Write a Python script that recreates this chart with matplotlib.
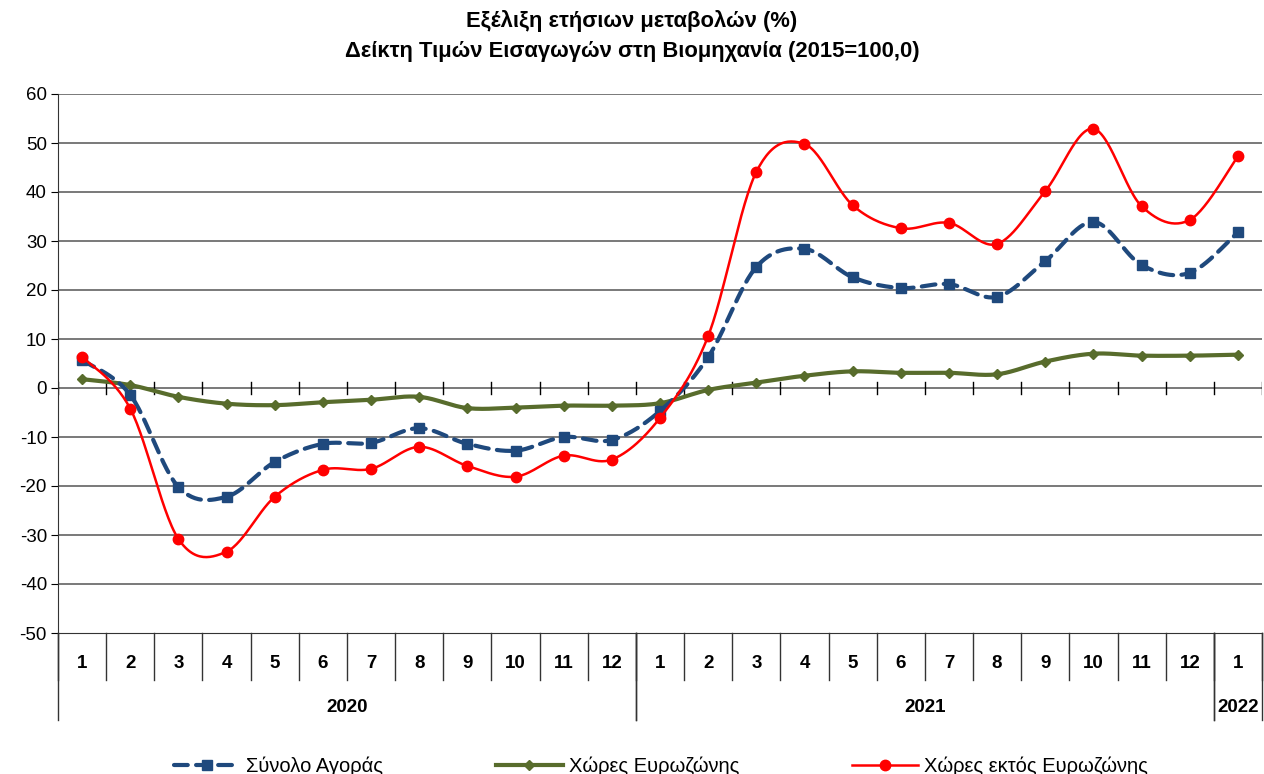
import numpy as np
import matplotlib
matplotlib.use("Agg")
import matplotlib.pyplot as plt
from matplotlib.lines import Line2D

plt.rcParams['font.family'] = ['Liberation Sans', 'DejaVu Sans']
plt.rcParams['axes.unicode_minus'] = False

# --- data ---
months = ['1', '2', '3', '4', '5', '6', '7', '8', '9', '10', '11', '12',
          '1', '2', '3', '4', '5', '6', '7', '8', '9', '10', '11', '12',
          '1']
years = ['2020', '2021', '2022']
year_len = [12, 12, 1]

total = [5.7, -1.4, -20.2, -22.2, -15.1, -11.4, -11.2, -8.2, -11.4, -12.8, -10.0, -10.6,
         -4.7, 6.3, 24.7, 28.4, 22.6, 20.4, 21.2, 18.6, 25.9, 33.9, 25.1, 23.5,
         31.8]
euro = [1.8, 0.6, -1.8, -3.2, -3.5, -2.9, -2.4, -1.8, -4.1, -4.0, -3.6, -3.6,
        -3.1, -0.4, 1.1, 2.5, 3.4, 3.1, 3.1, 2.8, 5.4, 7.0, 6.6, 6.6,
        6.8]
non_euro = [6.4, -4.2, -30.8, -33.4, -22.2, -16.7, -16.5, -12.0, -15.9, -18.1, -13.8, -14.6,
            -6.1, 10.6, 44.1, 49.8, 37.3, 32.6, 33.7, 29.4, 40.2, 52.9, 37.1, 34.3,
            47.3]

names = ['Σύνολο Αγοράς', 'Χώρες Ευρωζώνης', 'Χώρες εκτός Ευρωζώνης']
title = 'Εξέλιξη ετήσιων μεταβολών (%)\nΔείκτη Τιμών Εισαγωγών στη Βιομηχανία (2015=100,0)'


def smooth(x, y, n=30):
    # excel-like smoothing: cubic bezier through points (catmull-rom controls)
    x = np.asarray(x, float)
    y = np.asarray(y, float)
    pts = np.column_stack([x, y])
    p = np.vstack([pts[0], pts, pts[-1]])
    out = []
    t = np.linspace(0, 1, n)[:, None]
    for i in range(1, len(p) - 2):
        p0, p1, p2, p3 = p[i - 1], p[i], p[i + 1], p[i + 2]
        c1 = p1 + (p2 - p0) / 6.0
        c2 = p2 - (p3 - p1) / 6.0
        seg = ((1 - t) ** 3) * p1 + 3 * ((1 - t) ** 2) * t * c1 + 3 * (1 - t) * t ** 2 * c2 + t ** 3 * p2
        out.append(seg)
    out = np.vstack(out)
    return out[:, 0], out[:, 1]


x = np.arange(len(months))
blue = '#1F497D'
green = '#586C2C'
red = '#FF0000'

fig = plt.figure(figsize=(12.64, 7.74), dpi=100)
ax = fig.add_axes([58 / 1264, 1 - 633 / 774, (1262 - 58) / 1264, (633 - 94) / 774])

ax.set_xlim(-0.5, len(months) - 0.5)
ax.set_ylim(-50, 60)
ax.set_yticks(np.arange(-50, 61, 10))
ax.tick_params(axis='y', labelsize=13.5, length=5, direction='out', pad=3)
ax.set_xticks([])
for v in range(-40, 61, 10):
    ax.axhline(v, color='#555555', lw=1.1, zorder=1)

for s in ['top', 'right']:
    ax.spines[s].set_visible(False)
ax.spines['left'].set_color('#333333')
ax.spines['bottom'].set_color('#333333')

# ticks on zero line
for b in np.arange(len(months) + 1) - 0.5:
    ax.plot([b, b], [-1.2, 1.2], color='black', lw=1, zorder=2)

# series
sx, sy = smooth(x, euro)
ax.plot(sx, sy, color=green, lw=3, zorder=3, solid_capstyle='round')
ax.plot(x, euro, 'D', color=green, ms=5, zorder=4)

sx, sy = smooth(x, total)
ax.plot(sx, sy, color=blue, lw=3, ls=(0, (3.3, 2.0)), dash_capstyle='round', zorder=5)
ax.plot(x, total, 's', color=blue, ms=7.5, zorder=6)

sx, sy = smooth(x, non_euro)
ax.plot(sx, sy, color=red, lw=1.8, zorder=7)
ax.plot(x, non_euro, 'o', color=red, ms=7.5, zorder=8)

# category axis below
trans = ax.get_xaxis_transform()
row1 = -47 / 539
row2 = -87 / 539
for b in np.arange(len(months) + 1) - 0.5:
    ax.plot([b, b], [0, row1], color='#333333', lw=1, transform=trans, clip_on=False)
for i, m in enumerate(months):
    ax.text(i, -30 / 539, m, transform=trans, ha='center', va='center',
            fontsize=13.5, fontweight='bold')
start = 0
for yr, n in zip(years, year_len):
    left = start - 0.5
    right = start + n - 0.5
    for b in [left, right]:
        ax.plot([b, b], [0, row2], color='#333333', lw=1, transform=trans, clip_on=False)
    ax.text((left + right) / 2, -75 / 539, yr, transform=trans, ha='center', va='center',
            fontsize=13.5, fontweight='bold')
    start += n

fig.suptitle(title, y=0.987, fontsize=15.8, fontweight='bold', linespacing=1.55)

handles = [
    Line2D([], [], color=blue, lw=3, ls=(0, (3.3, 2.0)), marker='s', ms=7.5, dash_capstyle='round'),
    Line2D([], [], color=green, lw=3, marker='D', ms=5),
    Line2D([], [], color=red, lw=1.8, marker='o', ms=7.5),
]
fig.legend(handles, names, loc='center', bbox_to_anchor=(0.523, 0.01), ncol=3,
           frameon=False, fontsize=14.5, handlelength=3.3, columnspacing=5.6, handletextpad=0.3)

fig.savefig('out.png', dpi=100)
